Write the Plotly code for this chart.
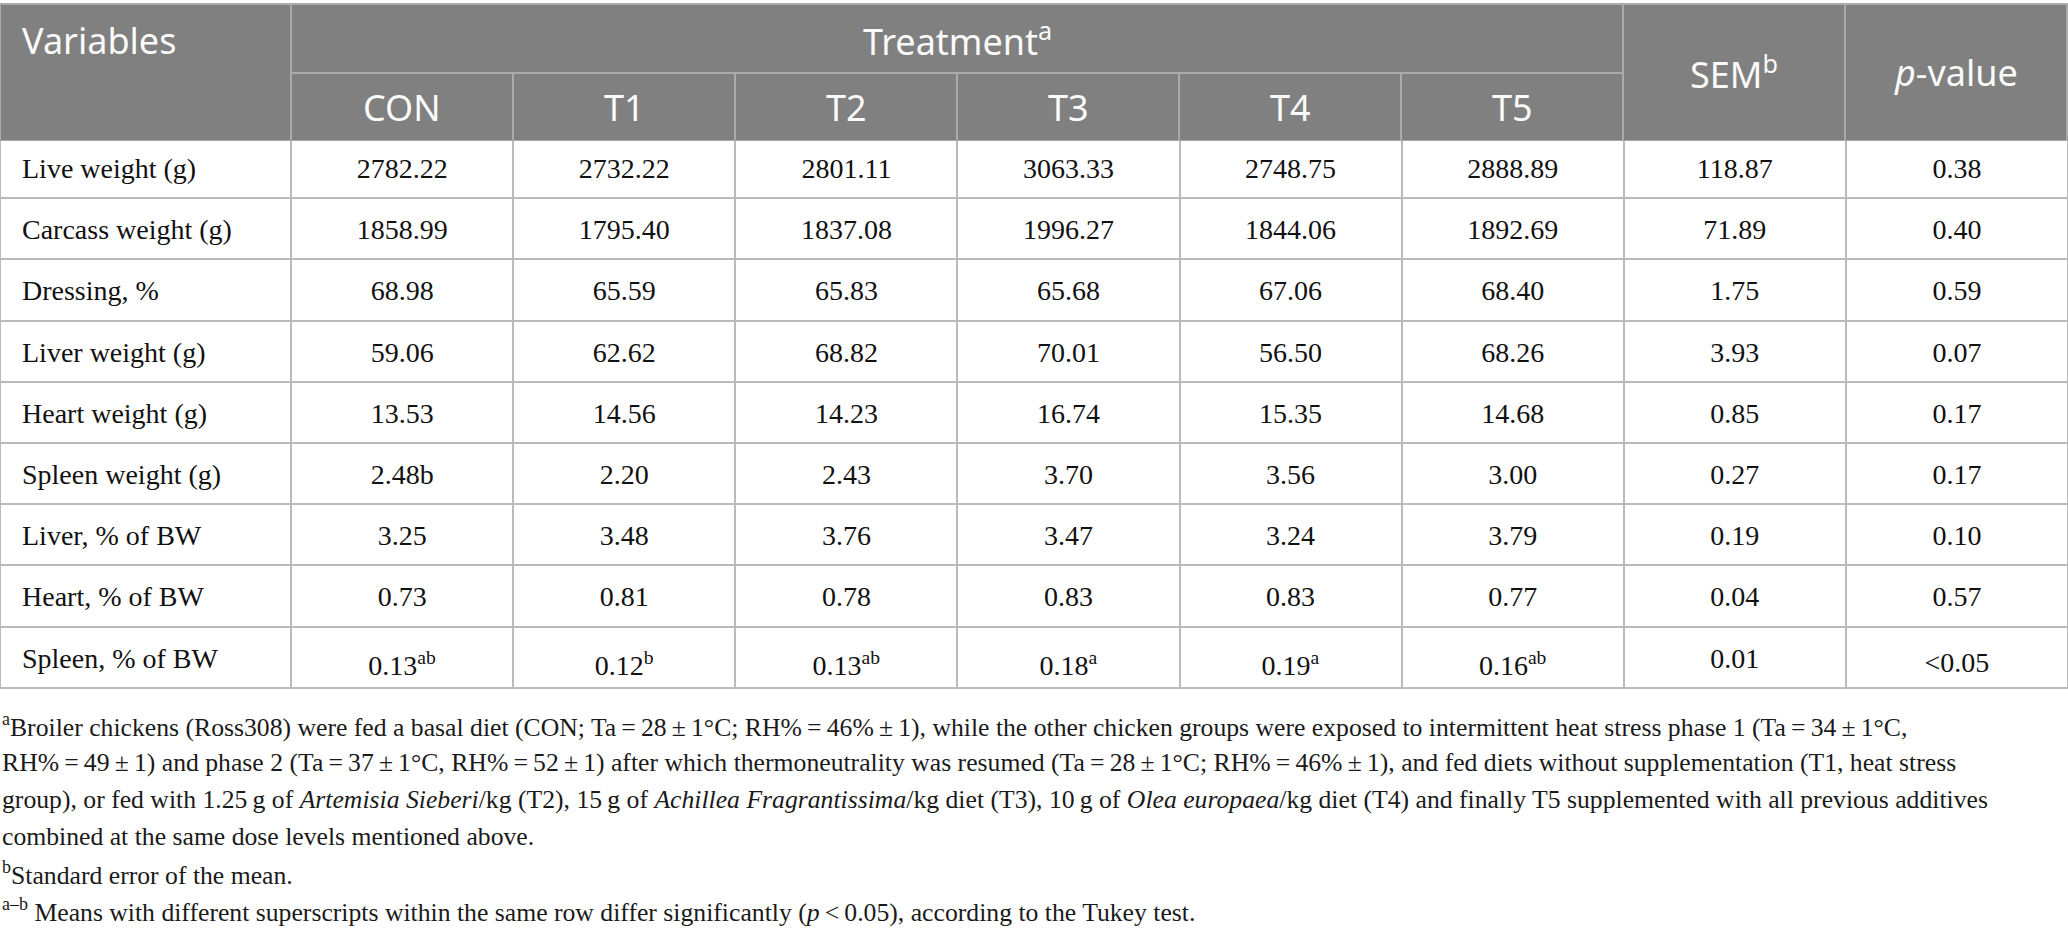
import plotly.graph_objects as go

W, H = 2068, 933

# ---------------- data ----------------
variables = ["Live weight (g)", "Carcass weight (g)", "Dressing, %", "Liver weight (g)",
             "Heart weight (g)", "Spleen weight (g)", "Liver, % of BW", "Heart, % of BW",
             "Spleen, % of BW"]
treatments = ["CON", "T1", "T2", "T3", "T4", "T5"]
con = [2782.22, 1858.99, 68.98, 59.06, 13.53, 2.48, 3.25, 0.73, 0.13]
t1 = [2732.22, 1795.40, 65.59, 62.62, 14.56, 2.20, 3.48, 0.81, 0.12]
t2 = [2801.11, 1837.08, 65.83, 68.82, 14.23, 2.43, 3.76, 0.78, 0.13]
t3 = [3063.33, 1996.27, 65.68, 70.01, 16.74, 3.70, 3.47, 0.83, 0.18]
t4 = [2748.75, 1844.06, 67.06, 56.50, 15.35, 3.56, 3.24, 0.83, 0.19]
t5 = [2888.89, 1892.69, 68.40, 68.26, 14.68, 3.00, 3.79, 0.77, 0.16]
sem = [118.87, 71.89, 1.75, 3.93, 0.85, 0.27, 0.19, 0.04, 0.01]
p_values = ["0.38", "0.40", "0.59", "0.07", "0.17", "0.17", "0.10", "0.57", "<0.05"]
spleen_pct_letters = ["ab", "b", "ab", "a", "a", "ab"]   # superscripts, last row
spleen_wt_con_suffix = "b"                               # printed inline in source

header_top = ["Variables", "Treatment<sup>a</sup>", "SEM<sup>b</sup>", "<i>p</i>-value"]

footnotes = [
    "<sup>a</sup>Broiler chickens (Ross308) were fed a basal diet (CON; Ta\u2009=\u200928\u2009±\u20091°C; RH%\u2009=\u200946%\u2009±\u20091), while the other chicken groups were exposed to intermittent heat stress phase 1 (Ta\u2009=\u200934\u2009±\u20091°C,",
    "RH%\u2009=\u200949\u2009±\u20091) and phase 2 (Ta\u2009=\u200937\u2009±\u20091°C, RH%\u2009=\u200952\u2009±\u20091) after which thermoneutrality was resumed (Ta\u2009=\u200928\u2009±\u20091°C; RH%\u2009=\u200946%\u2009±\u20091), and fed diets without supplementation (T1, heat stress",
    "group), or fed with 1.25\u2009g of <i>Artemisia Sieberi</i>/kg (T2), 15\u2009g of <i>Achillea Fragrantissima</i>/kg diet (T3), 10\u2009g of <i>Olea europaea</i>/kg diet (T4) and finally T5 supplemented with all previous additives",
    "combined at the same dose levels mentioned above.",
    "<sup>b</sup>Standard error of the mean.",
    "<sup>a\u2013b</sup> Means with different superscripts within the same row differ significantly (<i>p</i>\u2009<\u20090.05), according to the Tukey test.",
]

# ---------------- styling ----------------
HDR_FILL = "#7f807f"
HDR_LINE = "#a9aaa9"
BODY_LINE = "#bababa"
CLEAR = "rgba(0,0,0,0)"
SANS = "Noto Sans"
SERIF = "Liberation Serif"
HDR_FONT = dict(family=SANS, size=36, color="#fafafa")
BODY_FONT = dict(family=SERIF, size=28, color="#111111")
FOOT_FONT = dict(family=SERIF, size=25.7, color="#1a1a1a")

col_w = [291] + [222] * 8
X_EDGES = [0]
for w in col_w:
    X_EDGES.append(X_EDGES[-1] + w)

TOP, MID, HDR_BOT = 4, 73, 141
ROW_H = 61.2
EMPTY_HDR = 20      # strip plotly reserves for a table without header values
TEXT_DROP = 12      # moves the cell text to the vertical middle of each row


def px(x):
    return x / W


def py(y):
    return 1 - y / H


def fmt_col(vals, j):
    out = []
    for i, v in enumerate(vals):
        s = f"{v:.2f}"
        if i == 5 and j == 0:
            s += spleen_wt_con_suffix
        if i == 8:
            s += f"<sup>{spleen_pct_letters[j]}</sup>"
        out.append(s)
    return out


treat_cols = [fmt_col(c, j) for j, c in enumerate([con, t1, t2, t3, t4, t5])]
body_values = [["\u00a0\u00a0" + v for v in variables]] + treat_cols + \
              [[f"{v:.2f}" for v in sem], p_values]
n_rows = len(variables)
n_cols = len(body_values)

fig = go.Figure()

# body grid (its empty header strip is hidden under the header tables)
fig.add_trace(go.Table(
    domain=dict(x=[0, 1], y=[0.0, py(HDR_BOT - EMPTY_HDR)]),
    columnwidth=col_w,
    header=dict(fill_color=CLEAR, line=dict(color=CLEAR, width=0)),
    cells=dict(values=[[""] * n_rows for _ in range(n_cols)],
               fill_color="white",
               line=dict(color=BODY_LINE, width=2),
               height=ROW_H),
))

# body text
fig.add_trace(go.Table(
    domain=dict(x=[0, 1], y=[0.0, py(HDR_BOT - EMPTY_HDR + TEXT_DROP)]),
    columnwidth=col_w,
    header=dict(fill_color=CLEAR, line=dict(color=CLEAR, width=0)),
    cells=dict(values=body_values,
               align=["left"] + ["center"] * 8,
               fill_color=CLEAR,
               line=dict(color=CLEAR, width=0),
               font=BODY_FONT,
               height=ROW_H),
))


def header_grid(x0, x1, y0, y1, ncol, widths):
    return go.Table(
        domain=dict(x=[px(x0), px(x1)], y=[py(y1), py(y0)]),
        columnwidth=widths,
        header=dict(values=[""] * ncol, fill_color=HDR_FILL,
                    line=dict(color=HDR_LINE, width=2), height=y1 - y0),
    )


fig.add_trace(header_grid(X_EDGES[0], X_EDGES[1], TOP, HDR_BOT, 1, [col_w[0]]))
fig.add_trace(header_grid(X_EDGES[1], X_EDGES[7], TOP, MID, 1, [sum(col_w[1:7])]))
fig.add_trace(header_grid(X_EDGES[1], X_EDGES[7], MID, HDR_BOT, 6, col_w[1:7]))
fig.add_trace(header_grid(X_EDGES[7], X_EDGES[9], TOP, HDR_BOT, 2, col_w[7:9]))


def label(text, x, y, xanchor="center", font=HDR_FONT):
    return dict(text=text, x=px(x), y=py(y), xref="paper", yref="paper",
                xanchor=xanchor, yanchor="middle", showarrow=False, font=font)


annotations = [
    label(header_top[0], 20, (TOP + MID) / 2 + 2, xanchor="left"),
    label(header_top[1], (X_EDGES[1] + X_EDGES[7]) / 2, (TOP + MID) / 2 + 1),
    label(header_top[2], (X_EDGES[7] + X_EDGES[8]) / 2, MID - 1),
    label(header_top[3], (X_EDGES[8] + X_EDGES[9]) / 2, MID),
]
for j, name in enumerate(treatments):
    annotations.append(label(name, (X_EDGES[j + 1] + X_EDGES[j + 2]) / 2,
                             (MID + HDR_BOT) / 2))

foot_y = [725, 762, 799, 836, 873, 910]
for txt, yy in zip(footnotes, foot_y):
    annotations.append(dict(text=txt, x=0, y=py(yy), xref="paper", yref="paper",
                            xanchor="left", yanchor="middle", showarrow=False,
                            align="left", font=FOOT_FONT))

fig.update_layout(width=W, height=H, margin=dict(l=0, r=0, t=0, b=0),
                  paper_bgcolor="white", plot_bgcolor="white",
                  annotations=annotations)

fig.write_html("out.html", config={"displayModeBar": False},
               post_script="document.body.style.margin='0px';")
